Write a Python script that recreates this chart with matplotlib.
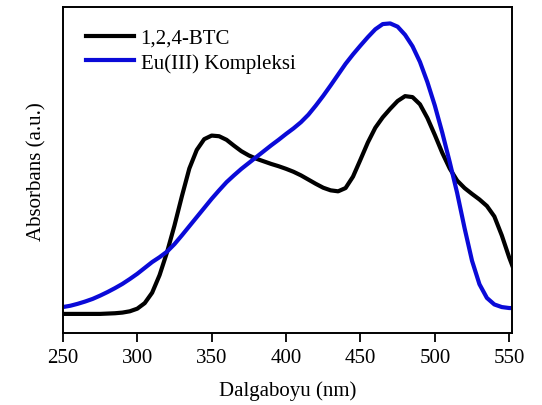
import matplotlib.pyplot as plt

plt.rcParams['font.family'] = ['Liberation Serif', 'DejaVu Serif']

# wavelengths (nm) and absorbance (arbitrary units)
wl = [250, 255, 260, 265, 270, 275, 280, 285, 290, 295, 300, 305, 310, 315,
      320, 325, 330, 335, 340, 345, 350, 355, 360, 365, 370, 375, 380, 385,
      390, 395, 400, 405, 410, 415, 420, 425, 430, 435, 440, 445, 450, 455,
      460, 465, 470, 475, 480, 485, 490, 495, 500, 505, 510, 515, 520, 525,
      530, 535, 540, 545, 550, 552]

btc_y = [0.059, 0.059, 0.059, 0.059, 0.059, 0.059, 0.060, 0.061, 0.063, 0.067,
         0.075, 0.092, 0.124, 0.178, 0.248, 0.330, 0.420, 0.505, 0.562, 0.595,
         0.606, 0.604, 0.593, 0.575, 0.558, 0.545, 0.535, 0.527, 0.519, 0.512,
         0.504, 0.495, 0.484, 0.471, 0.458, 0.446, 0.438, 0.435, 0.445, 0.480,
         0.532, 0.585, 0.630, 0.662, 0.688, 0.712, 0.727, 0.724, 0.702, 0.660,
         0.608, 0.553, 0.505, 0.468, 0.445, 0.427, 0.410, 0.390, 0.358, 0.300,
         0.232, 0.208]

eu_y = [0.080, 0.084, 0.090, 0.097, 0.105, 0.115, 0.126, 0.138, 0.151, 0.166,
        0.182, 0.200, 0.218, 0.233, 0.250, 0.273, 0.300, 0.328, 0.356, 0.384,
        0.412, 0.438, 0.463, 0.484, 0.504, 0.522, 0.540, 0.558, 0.576, 0.593,
        0.611, 0.628, 0.647, 0.670, 0.698, 0.728, 0.760, 0.793, 0.826, 0.855,
        0.882, 0.908, 0.932, 0.948, 0.950, 0.940, 0.915, 0.880, 0.832, 0.770,
        0.698, 0.615, 0.525, 0.430, 0.322, 0.222, 0.150, 0.108, 0.088, 0.080,
        0.077, 0.077]

fig = plt.figure(figsize=(5.42, 4.06), dpi=100)
ax = fig.add_axes([0.116, 0.177, 0.829, 0.803])

ax.plot(wl, btc_y, color='black', lw=3, label='1,2,4-BTC', solid_joinstyle='round')
ax.plot(wl, eu_y, color='#0a0ad8', lw=3, label='Eu(III) Kompleksi', solid_joinstyle='round')

ax.set_xlim(250, 552)
ax.set_ylim(0, 1)
ax.set_xticks([250, 300, 350, 400, 450, 500, 550])
ax.set_yticks([])
ax.tick_params(axis='x', direction='out', length=6.5, width=1.3, labelsize=15, pad=4)
for s in ax.spines.values():
    s.set_linewidth(1.4)

ax.set_xlabel('Dalgaboyu (nm)', fontsize=15, labelpad=10)
ax.set_ylabel('Absorbans (a.u.)', fontsize=15, labelpad=12)

ax.legend(loc='upper left', frameon=False, fontsize=15, handlelength=2.3,
          handletextpad=0.3, labelspacing=0.25, borderaxespad=0.3,
          bbox_to_anchor=(0.02, 0.98))

fig.savefig('out.png', dpi=100)
